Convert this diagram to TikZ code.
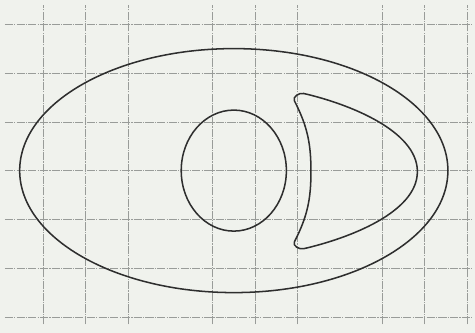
\documentclass[tikz,border=0pt]{standalone}
\definecolor{paper}{rgb}{0.94, 0.95, 0.93}
\definecolor{pencil}{rgb}{0.18, 0.18, 0.18}
\definecolor{gridgray}{rgb}{0.6, 0.61, 0.6}
\usepackage{tikz}
\usetikzlibrary{positioning,calc}

\begin{document}
\begin{tikzpicture}[x=1.272cm,y=1.464cm,
    gridline/.style={gridgray,line width=0.5pt,dash pattern=on 7pt off 1pt on 1pt off 1pt},
    curve/.style={pencil,line width=1.3pt}]
    % Paper
    \fill[paper] (-1.0142,-0.3279) rectangle (10.189,6.496);
    \useasboundingbox (-1.0142,-0.3279) rectangle (10.189,6.496);
    % Grid
    \foreach \y in {0,...,6} {
        \draw[gridline] (-0.9,\y) -- (10.15,\y);
    }
    \foreach \x in {0,1,2,4,5,6,8,9,10} {
        \draw[gridline] (\x,-0.15) -- (\x,6.4);
    }
    % Outer ellipse
    \draw[curve] (4.5,3) ellipse [x radius=5.05, y radius=2.5];
    % Inner circle
    \draw[curve] (4.5,3) ellipse [x radius=1.24, y radius=1.24];
    % Crescent
    \coordinate (top) at (6.15,4.58);
    \coordinate (tip) at (8.83,2.98);
    \coordinate (bot) at (6.15,1.40);
    \coordinate (cornerB) at (5.93,1.54);
    \coordinate (mid) at (6.32,2.98);
    \coordinate (cornerT) at (5.93,4.43);
    \draw[curve] (top) .. controls (7.2,4.37) and (8.83,3.82) .. (tip)
        .. controls (8.83,2.14) and (7.2,1.61) .. (bot)
        to[out=-166,in=-115] (cornerB)
        to[out=63,in=-90] (mid)
        to[out=90,in=-63] (cornerT)
        to[out=115,in=166] (top) -- cycle;
\end{tikzpicture}
\end{document}
